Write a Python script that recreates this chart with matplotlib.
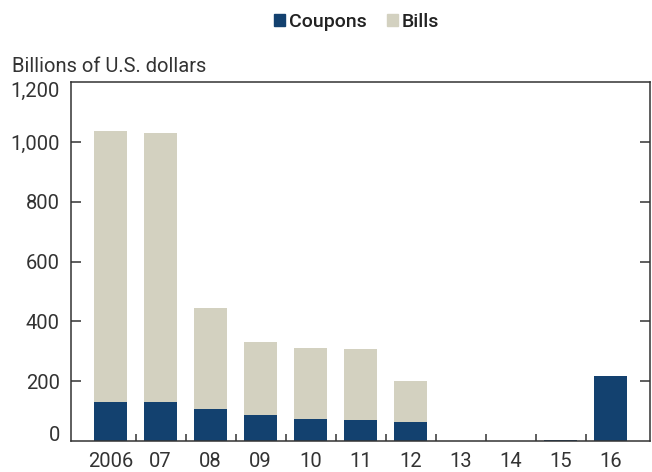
import matplotlib
matplotlib.use("Agg")
import matplotlib.pyplot as plt
from matplotlib.patches import Patch
import numpy as np

plt.rcParams['font.family'] = ['Roboto', 'DejaVu Sans']

# datos (miles de millones USD)
years = ['2006', '07', '08', '09', '10', '11', '12', '13', '14', '15', '16']
coupons = [130, 130, 108, 86, 72, 70, 63, 0, 0, 4, 217]
bills = [906, 899, 337, 246, 239, 238, 137, 0, 0, 0, 0]
yticks = [0, 200, 400, 600, 800, 1000, 1200]
ytick_labels = ['0', '200', '400', '600', '800', '1,000', '1,200']

c_coupons = '#13416f'
c_bills = '#d3d1c0'
c_text = '#333333'

fig = plt.figure(figsize=(6.52, 4.72), dpi=100)
ax = fig.add_axes([0.109, 0.0657, 0.888, 0.7603])

x = np.arange(len(years))
ax.bar(x, coupons, width=0.654, color=c_coupons, zorder=2)
ax.bar(x, bills, width=0.654, bottom=coupons, color=c_bills, zorder=2)

ax.set_xlim(-0.79, 10.79)
ax.set_ylim(0, 1200)
ax.set_yticks(yticks)
ax.set_yticklabels(ytick_labels)
ax.set_xticks(x)
ax.set_xticklabels(years)
ax.set_xticks(x[:-1] + 0.5, minor=True)

for s in ax.spines.values():
    s.set_color(c_text)
    s.set_linewidth(1.1)

ax.tick_params(axis='y', which='major', direction='in', length=7, width=1.1,
               color=c_text, labelsize=14.5, labelcolor=c_text, pad=8,
               right=True)
ax.tick_params(axis='x', which='major', length=0, labelsize=14.5,
               labelcolor=c_text, pad=8)
ax.tick_params(axis='x', which='minor', direction='in', length=5, width=1.1,
               color=c_text)
for t in (ax.yaxis.get_major_ticks()[0], ax.yaxis.get_major_ticks()[-1]):
    t.tick1line.set_visible(False)
    t.tick2line.set_visible(False)
# etiquetas extremas dentro del eje, como en el original
lbls = ax.get_yticklabels()
lbls[0].set_va('baseline')
lbls[-1].set_va('top')

fig.text(0.018, 0.848, 'Billions of U.S. dollars', fontsize=14.5, color=c_text,
         ha='left', va='baseline')

handles = [Patch(color=c_coupons, label='Coupons'), Patch(color=c_bills, label='Bills')]
fig.legend(handles=handles, loc='upper center', bbox_to_anchor=(0.547, 1.01),
           ncol=2, frameon=False, handlelength=0.6,
           handleheight=0.6, handletextpad=0.2, columnspacing=1.0,
           prop={'size': 14, 'weight': 'medium'}, labelcolor='#222222')

fig.savefig('out.png', dpi=100)
